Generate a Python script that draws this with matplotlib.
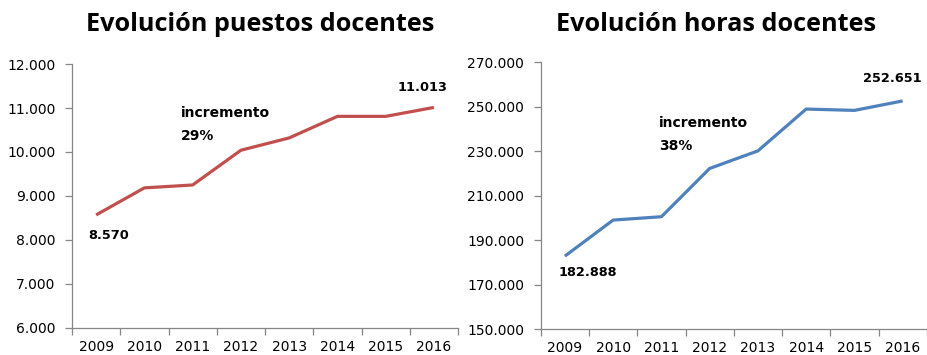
import matplotlib
matplotlib.use("Agg")
import matplotlib.pyplot as plt
from matplotlib.ticker import FuncFormatter, FixedLocator

years = ["2009", "2010", "2011", "2012", "2013", "2014", "2015", "2016"]
puestos = [8570, 9185, 9250, 10040, 10320, 10810, 10810, 11013]
horas = [182888, 199100, 200600, 222300, 230200, 249000, 248400, 252651]
increase_puestos = ["incremento", "29%"]
increase_horas = ["incremento", "38%"]
titles = ["Evolución puestos docentes", "Evolución horas docentes"]

RED = "#C0504D"
BLUE = "#4F81BD"
AXIS = "#868686"

fig = plt.figure(figsize=(9.28, 3.55), dpi=100)
ax1 = fig.add_axes([0.0776, 0.0761, 0.416, 0.7436])
ax2 = fig.add_axes([0.5827, 0.0724, 0.416, 0.752])


def thousands(v, _):
    return f"{int(round(v)):,}".replace(",", ".")


def style(ax, ymin, ymax, step, label_pad):
    n = len(years)
    x = list(range(n))
    ax.set_xlim(-0.5, n - 0.5)
    ax.set_ylim(ymin, ymax)
    ax.set_yticks(range(ymin, ymax + 1, step))
    ax.yaxis.set_major_formatter(FuncFormatter(thousands))
    ax.set_xticks(x)
    ax.set_xticklabels(years)
    ax.xaxis.set_minor_locator(FixedLocator([i - 0.5 for i in range(n + 1)]))
    for s in ("top", "right"):
        ax.spines[s].set_visible(False)
    for s in ("left", "bottom"):
        ax.spines[s].set_color(AXIS)
        ax.spines[s].set_linewidth(0.9)
    ax.tick_params(axis="y", direction="out", length=5, width=0.9, color=AXIS,
                   labelsize=10, pad=7, labelcolor="#000000")
    ax.tick_params(axis="x", which="major", length=0, labelsize=10,
                   pad=label_pad)
    ax.tick_params(axis="x", which="minor", direction="out", length=5,
                   width=0.9, color=AXIS)
    return x


def value_label(ax, xv, yv, dx, dy):
    # dx, dy in pixels from the data point to the label's left/centre
    ax.annotate(thousands(yv, None), (xv, yv), xytext=(dx * 0.72, dy * 0.72),
                textcoords="offset points", fontsize=9.3, fontweight="bold",
                ha="left", va="center")


def note(ax, xv, yv, lines):
    for i, line in enumerate(lines):
        ax.annotate(line, (xv, yv), xytext=(0, -16.2 * i),
                    textcoords="offset points", fontsize=10,
                    fontweight="bold", ha="left", va="center")


x = style(ax1, 6000, 12000, 1000, 9)
ax1.plot(x, puestos, color=RED, lw=2.3, solid_capstyle="butt")
value_label(ax1, x[0], puestos[0], -8, -21)
value_label(ax1, x[-1], puestos[-1], -36, 20)
note(ax1, 1.76, 10880, increase_puestos)

x = style(ax2, 150000, 270000, 20000, 8.5)
ax2.plot(x, horas, color=BLUE, lw=2.3, solid_capstyle="butt")
value_label(ax2, x[0], horas[0], -6, -16)
value_label(ax2, x[-1], horas[-1], -40, 22)
note(ax2, 1.95, 242600, increase_horas)

fig.text(260.5 / 928, 1 - 31 / 355, titles[0], fontsize=18.2,
         fontweight="bold", family="Open Sans", ha="center", va="baseline")
fig.text(716 / 928, 1 - 31 / 355, titles[1], fontsize=18.2,
         fontweight="bold", family="Open Sans", ha="center", va="baseline")

fig.savefig("out.png", dpi=100)
